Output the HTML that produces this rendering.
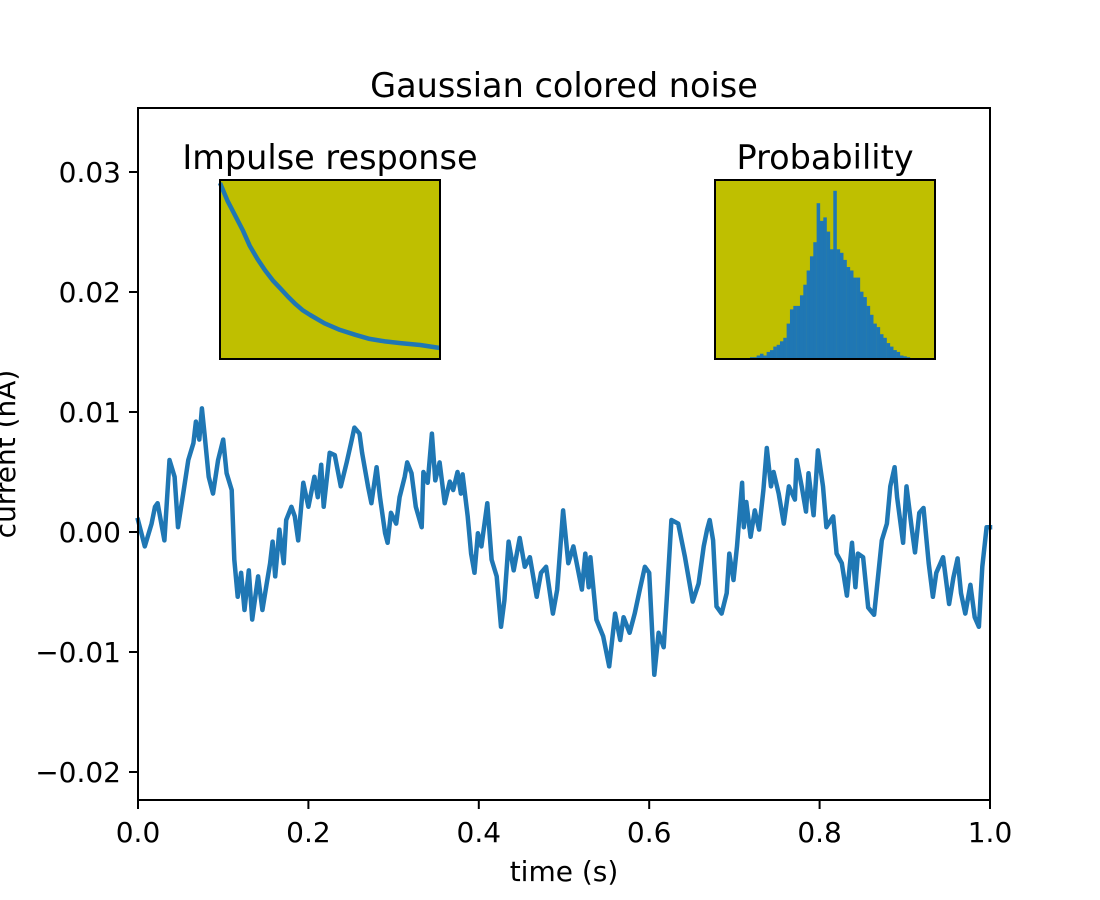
<!DOCTYPE html>
<html><head><meta charset="utf-8"><style>
html,body{margin:0;padding:0;background:#fff;}
svg{display:block;font-family:"DejaVu Sans","Liberation Sans",sans-serif;}
</style></head><body>
<svg id="chart" width="1100" height="900" viewBox="0 0 1100 900" xmlns="http://www.w3.org/2000/svg">
<rect x="0" y="0" width="1100" height="900" fill="#fff"/>
<text x="564" y="97" font-size="33.5" text-anchor="middle">Gaussian colored noise</text>
<g id="main"></g>
<text x="564" y="881" font-size="28" text-anchor="middle">time (s)</text>
<text transform="translate(15,454) rotate(-90)" font-size="28" text-anchor="middle">current (nA)</text>
<g id="inset1"></g>
<g id="inset2"></g>
</svg>
<script>
const timeVals=[0,.008,.016,.020,.023,.031,.037,.043,.047,.053,.059,.065,.068,.072,.075,.078,.083,.088,.094,.100,.104,.110,.113,.117,.121,.125,.130,.134,.141,.146,.151,.155,.158,.161,.166,.171,.174,.180,.184,.188,.194,.200,.207,.211,.215,.218,.225,.231,.238,.245,.250,.254,.260,.263,.270,.274,.280,.284,.290,.293,.297,.303,.307,.313,.316,.321,.326,.333,.335,.340,.345,.349,.354,.360,.366,.370,.375,.379,.381,.387,.391,.395,.399,.403,.410,.415,.421,.426,.430,.435,.441,.448,.454,.460,.468,.473,.479,.487,.492,.499,.505,
.511,.521,.525,.529,.531,.538,.546,.553,.560,.566,.570,.577,.583,.589,.595,.600,.606,.611,.617,.621,.626,.634,.642,.651,.658,.664,.668,.671,.675,.679,.685,.691,.694,.699,.703,.709,.711,.714,.719,.724,.729,.734,.738,.743,.746,.752,.758,.764,.771,.773,.779,.784,.787,.793,.798,.804,.808,.816,.820,.826,.832,.838,.842,.845,.851,.857,.864,.867,.873,.879,.883,.888,.891,.898,.902,.908,.912,.917,.922,.928,.933,.937,.945,.952,.957,.962,.966,.971,.977,.982,.987,.991,.996,1.0];
const currentVals=[.001,-.0012,.0007,.0021,.0024,-.0007,.006,.0046,.0004,.0032,.006,.0074,.0092,.0077,.0103,.0082,.0046,.0032,.006,.0077,.0049,.0035,-.0023,-.0054,-.0034,-.0065,-.0032,-.0073,-.0037,-.0065,-.0043,-.0026,-.0008,-.0037,.0002,-.0026,.001,.0021,.0013,-.0007,.0041,.0021,.0046,.0029,.0056,.0021,.0066,.0064,.0038,.0058,.0074,.0087,.0082,.0066,.0038,.0024,.0054,.0029,-.0001,-.0009,.0016,.0007,.0029,.0046,.0058,.0049,.0021,.0004,.005,.0041,.0082,.0043,.0058,.0024,.0042,.0035,.005,.0032,.0048,.0013,-.0018,-.0034,-.0001,-.0012,.0024,-.0023,-.0037,-.0079,-.0057,-.0008,-.0032,-.0005,-.0029,-.0021,-.0054,-.0034,-.0029,-.0068,-.0048,.0018,-.0026,
-.0012,-.0048,-.0018,-.0046,-.0021,-.0073,-.0087,-.0112,-.0068,-.009,-.0071,-.0084,-.0068,-.0048,-.0029,-.0034,-.0119,-.0084,-.0096,-.0051,.001,.0007,-.0021,-.0058,-.0043,-.0012,.0002,.001,-.0007,-.0062,-.0068,-.0051,-.0018,-.004,-.0012,.0041,.0004,.0025,-.0004,.0018,.0002,.0035,.007,.0038,.005,.0032,.0007,.0038,.0027,.006,.0038,.0017,.0049,.0014,.0068,.0038,.0004,.0013,-.0018,-.0026,-.0053,-.0009,-.0046,-.0018,-.0021,-.0063,-.0069,-.0048,-.0007,.0007,.0038,.0054,.0029,-.0009,.0038,.0004,-.0017,.0016,.002,-.0026,-.0054,-.0034,-.0021,-.006,-.0038,-.0022,-.0051,-.0068,-.0044,-.0071,-.0079,-.0029,.0004,.0004];
const yTicks=[-0.02,-0.01,0,0.01,0.02,0.03];
const yTickLabels=["\u22120.02","\u22120.01","0.00","0.01","0.02","0.03"];
const xTicks=[0,0.2,0.4,0.6,0.8,1.0];
const xTickLabels=["0.0","0.2","0.4","0.6","0.8","1.0"];
const impulseT=[0,0.007,0.014,0.021,0.027,0.034,0.041,0.048,0.055,0.062,0.068,0.075,0.082,0.095,0.109,0.123,0.136,0.150,0.164,0.182,0.2];
const impulseVals=[1,0.89,0.80,0.71,0.62,0.54,0.47,0.41,0.36,0.31,0.27,0.23,0.20,0.15,0.11,0.08,0.055,0.04,0.03,0.018,0.0];
const histCounts=[.005,.005,0,.005,.005,.005,.005,.002,.01,.01,.02,.03,.02,.04,.05,.07,.08,.1,.12,.2,.28,.3,.3,.36,.42,.5,.58,.66,.88,.78,.8,.72,.62,.95,.62,.6,.56,.52,.5,.46,.46,.38,.35,.3,.25,.2,.18,.14,.12,.09,.07,.05,.04,.02,.015,.01,.005,.005,.003,0];

const NS="http://www.w3.org/2000/svg";
function mk(tag,attrs,parent){const e=document.createElementNS(NS,tag);for(const k in attrs)e.setAttribute(k,attrs[k]);parent.appendChild(e);return e;}
const L=138,R=990,T=108,B=800;
const xs=v=>L+(v-0)/(1-0)*(R-L);
const ys=v=>532-v*12000;
const main=document.getElementById('main');

let d='';
timeVals.forEach((t,i)=>{d+=(i?'L':'M')+xs(t).toFixed(1)+','+ys(currentVals[i]).toFixed(1);});
const line=mk('path',{d:d,fill:'none',stroke:'#1f77b4','stroke-width':4.5,'stroke-linejoin':'round','stroke-linecap':'square'},main);



const frame=mk('rect',{x:L,y:T,width:R-L,height:B-T,fill:'none',stroke:'#000','stroke-width':2},main);



yTicks.forEach((v,i)=>{
  const y=ys(v);
  const tk=mk('line',{x1:L-9,x2:L,y1:y,y2:y,stroke:'#000','stroke-width':2},main);
  
  
  const tx=mk('text',{x:L-17,y:y+10,'font-size':28,'text-anchor':'end'},main);
  tx.textContent=yTickLabels[i];
  
  
});
xTicks.forEach((v,i)=>{
  const x=xs(v);
  const tk=mk('line',{x1:x,x2:x,y1:B,y2:B+9,stroke:'#000','stroke-width':2},main);
  
  
  const tx=mk('text',{x:x,y:B+42,'font-size':28,'text-anchor':'middle'},main);
  tx.textContent=xTickLabels[i];
  
  
});

const in1=document.getElementById('inset1');
const i1L=220,i1R=440,i1T=180,i1B=359;
const bg1=mk('rect',{x:i1L,y:i1T,width:i1R-i1L,height:i1B-i1T,fill:'#bfbf00'},in1);


const ix=t=>i1L+t/0.2*(i1R-i1L);
const iy=v=>348-v*165;
let d2='';
impulseT.forEach((t,i)=>{d2+=(i?'L':'M')+ix(t).toFixed(1)+','+iy(impulseVals[i]).toFixed(1);});
const il=mk('path',{d:d2,fill:'none',stroke:'#1f77b4','stroke-width':4.5,'stroke-linejoin':'round'},in1);


const f1=mk('rect',{x:i1L,y:i1T,width:i1R-i1L,height:i1B-i1T,fill:'none',stroke:'#000','stroke-width':2},in1);


const t1=mk('text',{x:330,y:169,'font-size':33.5,'text-anchor':'middle'},in1);
t1.textContent='Impulse response';



const in2=document.getElementById('inset2');
const i2L=715,i2R=935,i2T=180,i2B=359;
const bg2=mk('rect',{x:i2L,y:i2T,width:i2R-i2L,height:i2B-i2T,fill:'#bfbf00'},in2);


const bx0=723.3,bw=3.333;
const hy=c=>i2B-c*177;
histCounts.forEach((c,i)=>{
  if(c<=0)return;
  const r=mk('rect',{x:(bx0+i*bw).toFixed(2),y:hy(c).toFixed(1),width:bw+0.2,height:(i2B-hy(c)).toFixed(1),fill:'#1f77b4'},in2);
  
  
});
const f2=mk('rect',{x:i2L,y:i2T,width:i2R-i2L,height:i2B-i2T,fill:'none',stroke:'#000','stroke-width':2},in2);


const t2=mk('text',{x:825,y:169,'font-size':33.5,'text-anchor':'middle'},in2);
t2.textContent='Probability';


</script>
</body></html>
